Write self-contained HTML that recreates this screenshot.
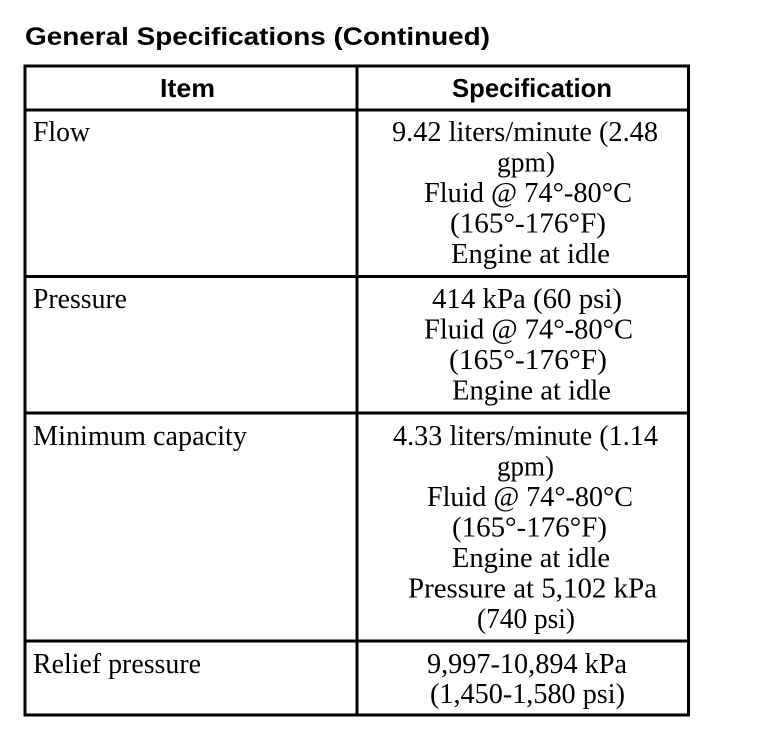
<!DOCTYPE html>
<html>
<head>
<meta charset="utf-8">
<style>
  html, body { margin: 0; padding: 0; background: #fff; }
  svg { display: block; }
  .t { font-family: "Liberation Sans", Arial, sans-serif; font-weight: bold; font-size: 25px; fill: #000; }
  .h { font-family: "Liberation Sans", Arial, sans-serif; font-weight: bold; font-size: 26px; fill: #000; }
  .s { font-family: "Liberation Serif", "Times New Roman", serif; font-size: 28px; fill: #000; }
</style>
</head>
<body>
<svg width="768" height="744" viewBox="0 0 768 744" xmlns="http://www.w3.org/2000/svg">
  <rect x="0" y="0" width="768" height="744" fill="#fff"/>

  <!-- Title -->
  <text class="t" x="25" y="45" textLength="465" lengthAdjust="spacingAndGlyphs">General Specifications (Continued)</text>

  <!-- Table lines -->
  <g stroke="#000" stroke-width="3" fill="none">
    <rect x="25" y="66" width="663.5" height="649"/>
    <line x1="357" y1="66" x2="357" y2="715"/>
    <line x1="25" y1="110" x2="688.5" y2="110"/>
    <line x1="25" y1="276.5" x2="688.5" y2="276.5"/>
    <line x1="25" y1="413" x2="688.5" y2="413"/>
    <line x1="25" y1="641" x2="688.5" y2="641"/>
  </g>

  <!-- Header -->
  <text class="h" x="160" y="97" textLength="55" lengthAdjust="spacingAndGlyphs">Item</text>
  <text class="h" x="452" y="97" textLength="160" lengthAdjust="spacingAndGlyphs">Specification</text>

  <!-- Left column -->
  <text class="s" x="33" y="141" textLength="57" lengthAdjust="spacingAndGlyphs">Flow</text>
  <text class="s" x="33" y="308" textLength="94" lengthAdjust="spacingAndGlyphs">Pressure</text>
  <text class="s" x="33" y="445" textLength="214" lengthAdjust="spacingAndGlyphs">Minimum capacity</text>
  <text class="s" x="33" y="673" textLength="168" lengthAdjust="spacingAndGlyphs">Relief pressure</text>

  <!-- Flow spec -->
  <text class="s" x="392" y="141" textLength="266" lengthAdjust="spacingAndGlyphs">9.42 liters/minute (2.48</text>
  <text class="s" x="497" y="171.5" textLength="58" lengthAdjust="spacingAndGlyphs">gpm)</text>
  <text class="s" x="424" y="202" textLength="208" lengthAdjust="spacingAndGlyphs">Fluid @ 74°-80°C</text>
  <text class="s" x="450" y="232.5" textLength="156" lengthAdjust="spacingAndGlyphs">(165°-176°F)</text>
  <text class="s" x="451" y="263" textLength="159" lengthAdjust="spacingAndGlyphs">Engine at idle</text>

  <!-- Pressure spec -->
  <text class="s" x="432" y="308" textLength="190" lengthAdjust="spacingAndGlyphs">414 kPa (60 psi)</text>
  <text class="s" x="424" y="338.5" textLength="209" lengthAdjust="spacingAndGlyphs">Fluid @ 74°-80°C</text>
  <text class="s" x="449" y="369" textLength="158" lengthAdjust="spacingAndGlyphs">(165°-176°F)</text>
  <text class="s" x="452" y="399.5" textLength="159" lengthAdjust="spacingAndGlyphs">Engine at idle</text>

  <!-- Minimum capacity spec -->
  <text class="s" x="393" y="445" textLength="265" lengthAdjust="spacingAndGlyphs">4.33 liters/minute (1.14</text>
  <text class="s" x="497" y="475.5" textLength="57" lengthAdjust="spacingAndGlyphs">gpm)</text>
  <text class="s" x="427" y="506" textLength="206" lengthAdjust="spacingAndGlyphs">Fluid @ 74°-80°C</text>
  <text class="s" x="452" y="536.5" textLength="155" lengthAdjust="spacingAndGlyphs">(165°-176°F)</text>
  <text class="s" x="452" y="567" textLength="158" lengthAdjust="spacingAndGlyphs">Engine at idle</text>
  <text class="s" x="408" y="597.5" textLength="249" lengthAdjust="spacingAndGlyphs">Pressure at 5,102 kPa</text>
  <text class="s" x="477" y="628" textLength="98" lengthAdjust="spacingAndGlyphs">(740 psi)</text>

  <!-- Relief spec -->
  <text class="s" x="427" y="673" textLength="200" lengthAdjust="spacingAndGlyphs">9,997-10,894 kPa</text>
  <text class="s" x="430" y="703" textLength="195" lengthAdjust="spacingAndGlyphs">(1,450-1,580 psi)</text>
</svg>
</body>
</html>
